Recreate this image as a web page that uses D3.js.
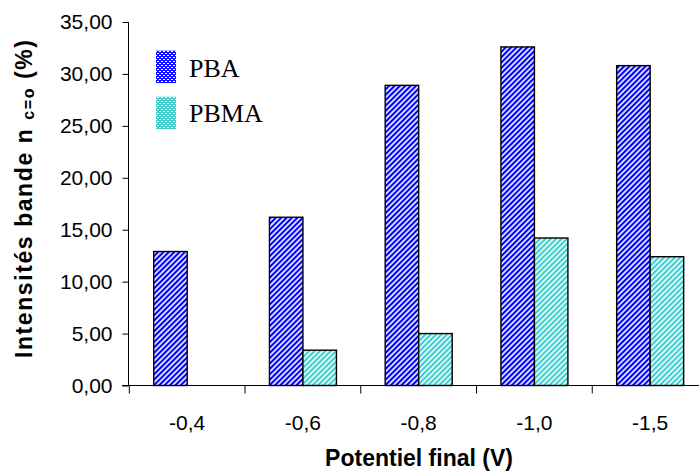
<!DOCTYPE html>
<html><head><meta charset="utf-8">
<script src="https://cdn.jsdelivr.net/npm/d3@7/dist/d3.min.js"></script>
<style>body{margin:0;background:#fff}svg{display:block}</style>
</head><body>
<script>
const categories = ["-0,4","-0,6","-0,8","-1,0","-1,5"];
const seriesNames = ["PBA","PBMA"];
const pba  = [12.9, 16.2, 28.9, 32.6, 30.8];
const pbma = [null, 3.4, 5.0, 14.2, 12.4];
const yTicks = [0,5,10,15,20,25,30,35];
const xTitle = "Potentiel final (V)";

const W = 699, H = 475;
const svg = d3.select("body").append("svg").attr("width", W).attr("height", H);
const defs = svg.append("defs");

function stripe(id, c1, c2){
  const p = defs.append("pattern").attr("id", id).attr("patternUnits","userSpaceOnUse")
    .attr("width", 3.8).attr("height", 3.8).attr("patternTransform","rotate(45)");
  p.append("rect").attr("width",3.8).attr("height",3.8).attr("fill",c2);
  p.append("rect").attr("width",2).attr("height",3.8).attr("fill",c1);
}
stripe("stPBA", "#0000ff", "#e6e6ff");
stripe("stPBMA", "#3cCfCf", "#eafafa");
function dots(id, c){
  const p = defs.append("pattern").attr("id", id).attr("patternUnits","userSpaceOnUse")
    .attr("width", 4).attr("height", 4);
  p.append("rect").attr("width",4).attr("height",4).attr("fill",c);
  p.append("rect").attr("x",1).attr("y",1).attr("width",2).attr("height",1).attr("fill","#fff");
  p.append("rect").attr("x",3).attr("y",3).attr("width",2).attr("height",1).attr("fill","#fff");
  p.append("rect").attr("x",-1).attr("y",3).attr("width",2).attr("height",1).attr("fill","#fff");
}
dots("dtPBA", "#1010ff");
dots("dtPBMA", "#40cccc");

const x0 = d3.scaleBand().domain(categories).range([129.3, 708]).paddingInner(0).paddingOuter(0);
const x1 = d3.scaleBand().domain(seriesNames).range([24.4, 24.4 + 67]);
const y = d3.scaleLinear().domain([0, 35]).range([385.5, 22]);

const fmt = d3.formatLocale({decimal: ",", thousands: " ", grouping:[3], currency:["",""]}).format(".2f");

const data = categories.map((c,i)=>({cat:c, vals:[{s:"PBA", v:pba[i]},{s:"PBMA", v:pbma[i]}]}));
const g = svg.append("g");
g.selectAll("g.grp").data(data).join("g").attr("class","grp")
  .attr("transform", d=>`translate(${x0(d.cat)},0)`)
  .selectAll("rect").data(d=>d.vals.filter(e=>e.v!=null)).join("rect")
  .attr("x", d=>x1(d.s)).attr("width", x1.bandwidth())
  .attr("y", d=>y(d.v)).attr("height", d=>y(0)-y(d.v))
  .attr("fill", d=>`url(#st${d.s})`).attr("stroke","#000").attr("stroke-width",1.4);

// Y axis
const ya = svg.append("g").attr("transform","translate(128.5,0)")
  .call(d3.axisLeft(y).tickValues(yTicks).tickSize(6).tickPadding(10).tickFormat(fmt));
ya.select(".domain").attr("d", `M0,${y(35)}V${y(0)}`).attr("stroke","#000").attr("stroke-width",1);
ya.selectAll("line").attr("stroke","#000");
ya.selectAll("text").attr("font-family","Arial, 'Liberation Sans', sans-serif").attr("font-size",21).attr("fill","#000");

// X axis
const xa = svg.append("g").attr("transform",`translate(0,${y(0)})`);
xa.append("line").attr("x1",122).attr("x2",W).attr("y1",0).attr("y2",0).attr("stroke","#000");
const bounds = categories.map(c=>x0(c)).concat([x0.range()[1]]);
xa.selectAll("line.tk").data(bounds).join("line").attr("class","tk")
  .attr("x1",d=>d).attr("x2",d=>d).attr("y1",0).attr("y2",8).attr("stroke","#000");
xa.selectAll("text").data(categories).join("text")
  .attr("x", c=>x0(c)+x0.bandwidth()/2).attr("y", 44.5).attr("text-anchor","middle")
  .attr("font-family","Arial, 'Liberation Sans', sans-serif").attr("font-size",21).text(c=>c);

// Titles
svg.append("text").attr("x", 419).attr("y", 466).attr("text-anchor","middle")
  .attr("font-family","Arial, 'Liberation Sans', sans-serif").attr("font-weight","bold").attr("font-size",23)
  .text(xTitle);
const yt = svg.append("text").attr("transform","translate(32,199) rotate(-90)").attr("text-anchor","middle")
  .attr("font-family","Arial, 'Liberation Sans', sans-serif").attr("font-weight","bold").attr("font-size",23)
  .attr("textLength",318).attr("lengthAdjust","spacing");
yt.append("tspan").text("Intensités bande n   ");
yt.append("tspan").attr("font-size",16).attr("dy",2).text("c=o");
yt.append("tspan").attr("dy",-2).text(" (%)");

// Legend
const leg = svg.append("g");
seriesNames.forEach((s,i)=>{
  leg.append("rect").attr("x",156).attr("y",50.7+i*46).attr("width",20).attr("height",32.3).attr("fill",`url(#dt${s})`);
  leg.append("text").attr("x",189).attr("y",76.7+i*45).attr("font-family","'Liberation Serif', 'Times New Roman', serif")
    .attr("font-size",26).text(s);
});
</script>
</body></html>
